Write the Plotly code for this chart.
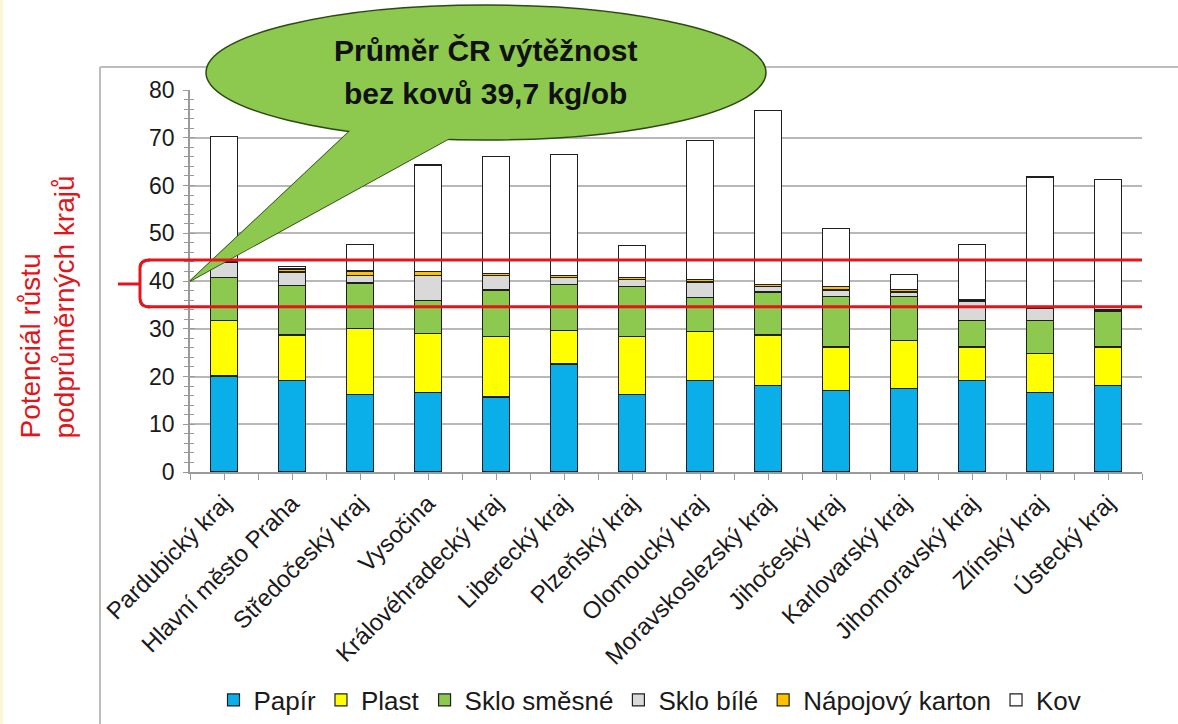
import plotly.graph_objects as go

# Regions (x axis) and per-material yields in kg per inhabitant
regions = [
    "Pardubický kraj", "Hlavní město Praha", "Středočeský kraj", "Vysočina",
    "Královéhradecký kraj", "Liberecký kraj", "Plzeňský kraj", "Olomoucký kraj",
    "Moravskoslezský kraj", "Jihočeský kraj", "Karlovarský kraj",
    "Jihomoravský kraj", "Zlínský kraj", "Ústecký kraj",
]
papir = [20.1, 19.2, 16.3, 16.6, 15.7, 22.6, 16.3, 19.1, 18.2, 17.1, 17.5, 19.2, 16.6, 18.2]
plast = [11.7, 9.5, 13.7, 12.4, 12.7, 7.0, 12.0, 10.3, 10.5, 9.1, 10.1, 7.0, 8.3, 8.0]
sklo_smesne = [8.9, 10.3, 9.6, 6.9, 9.7, 9.7, 10.6, 7.2, 9.0, 10.5, 9.1, 5.6, 6.9, 7.5]
sklo_bile = [3.1, 2.9, 1.6, 5.3, 3.1, 1.4, 1.4, 3.2, 1.1, 1.4, 1.0, 4.0, 2.4, 0.2]
napojovy_karton = [0.2, 0.6, 0.9, 0.8, 0.4, 0.4, 0.5, 0.5, 0.4, 0.7, 0.5, 0.4, 0.1, 0.1]
kov = [26.2, 0.6, 5.6, 22.3, 24.4, 25.4, 6.6, 29.1, 36.5, 12.2, 3.2, 11.5, 27.5, 27.3]

series = [
    ("Papír", papir, "#0AAEE8"),
    ("Plast", plast, "#FFFF00"),
    ("Sklo směsné", sklo_smesne, "#8DC84F"),
    ("Sklo bílé", sklo_bile, "#D9D9D9"),
    ("Nápojový karton", napojovy_karton, "#FFC000"),
    ("Kov", kov, "#FFFFFF"),
]

y_ticks = [0, 10, 20, 30, 40, 50, 60, 70, 80]
band = [34.6, 44.4]          # range around the national average
average_text = ["Průměr ČR výtěžnost", "bez kovů 39,7 kg/ob"]
side_title = ["Potenciál růstu", "podprůměrných krajů"]

FONT = "Arial, Liberation Sans, sans-serif"
RED = "#E3151B"
WIDTH, HEIGHT = 1178, 724
L, R, T, B = 190, 36, 90, 252
PW, PH = WIDTH - L - R, HEIGHT - T - B


def px(x):
    return (x - L) / PW


def py(y):
    return (HEIGHT - B - y) / PH


xs = list(range(len(regions)))
fig = go.Figure()
for name, vals, color in series:
    fig.add_trace(go.Bar(
        x=xs, y=vals, name=name, width=0.4,
        marker=dict(color=color, line=dict(color="#1F1F1F", width=1.2)),
    ))

# companion axis so the y ticks cross the axis line
fig.add_trace(go.Scatter(x=[None], y=[None], yaxis="y2", showlegend=False, hoverinfo="skip"))

shapes = []
# outer frame of the chart
shapes.append(dict(type="line", xref="paper", yref="paper", x0=px(100), x1=px(100),
                   y0=py(67), y1=py(724), line=dict(color="#BDBDBD", width=2)))
shapes.append(dict(type="line", xref="paper", yref="paper", x0=px(100), x1=px(1178),
                   y0=py(67), y1=py(67), line=dict(color="#BDBDBD", width=2)))
shapes.append(dict(type="rect", xref="paper", yref="paper", x0=px(0), x1=px(3),
                   y0=py(0), y1=py(724), fillcolor="#F8F8D8", line=dict(width=0)))

# speech bubble
GREEN, EDGE = "#8DC84F", "#2E4A14"
tail = f"M {px(370)},{py(112)} L {px(190)},{py(281)} L {px(481)},{py(121)} Z"
shapes.append(dict(type="path", xref="paper", yref="paper", path=tail,
                   fillcolor=GREEN, line=dict(color=EDGE, width=1.5)))
shapes.append(dict(type="circle", xref="paper", yref="paper",
                   x0=px(206), x1=px(766), y0=py(140), y1=py(5),
                   fillcolor=GREEN, line=dict(color=EDGE, width=1.5)))
shapes.append(dict(type="path", xref="paper", yref="paper", path=tail,
                   fillcolor=GREEN, line=dict(width=0)))

# band lines with the bracket on the left
for v in band:
    shapes.append(dict(type="line", xref="paper", yref="y", x0=px(148), x1=1.0,
                       y0=v, y1=v, line=dict(color=RED, width=3)))
bracket = (f"M {px(150)},{py(260)} Q {px(140)},{py(260)} {px(140)},{py(268)} "
           f"L {px(140)},{py(298)} Q {px(140)},{py(307)} {px(150)},{py(307)}")
shapes.append(dict(type="path", xref="paper", yref="paper", path=bracket,
                   line=dict(color=RED, width=3)))
shapes.append(dict(type="line", xref="paper", yref="paper", x0=px(118), x1=px(140),
                   y0=py(284), y1=py(284), line=dict(color=RED, width=3)))

annotations = []
for i, line in enumerate(average_text):
    annotations.append(dict(xref="paper", yref="paper", x=px(485), y=py(51 + 42 * i),
                            text=f"<b>{line}</b>", showarrow=False,
                            xanchor="center", yanchor="middle",
                            font=dict(family=FONT, size=30, color="#111111")))
for i, line in enumerate(side_title):
    annotations.append(dict(xref="paper", yref="paper", x=px(30 + 34 * i), y=py(441),
                            text=line, showarrow=False, textangle=-90,
                            xanchor="center", yanchor="bottom",
                            font=dict(family=FONT, size=28, color=RED)))

fig.update_layout(
    width=WIDTH, height=HEIGHT,
    margin=dict(l=L, r=R, t=T, b=B, autoexpand=False),
    barmode="stack",
    paper_bgcolor="white", plot_bgcolor="white",
    font=dict(family=FONT, color="#1A1A1A"),
    xaxis=dict(
        range=[-0.5, len(regions) - 0.5], tickmode="array", tickvals=xs, ticktext=regions,
        tickangle=-45, tickfont=dict(size=24, color="#1A1A1A"),
        showgrid=False, zeroline=False, showline=True, linecolor="#9A9A9A", linewidth=1.5,
        ticks="outside", ticklen=6, tickcolor="#9A9A9A",
        minor=dict(tickmode="linear", tick0=-0.5, dtick=0.5, ticks="outside", ticklen=6,
                   tickcolor="#9A9A9A"),
        automargin=False,
    ),
    yaxis=dict(
        range=[0, 80], tickmode="array", tickvals=y_ticks,
        tickfont=dict(size=23, color="#1A1A1A"),
        showgrid=True, gridcolor="#B8B8B8", gridwidth=1.5, zeroline=False,
        showline=True, linecolor="#9A9A9A", linewidth=1.5,
        ticks="outside", ticklen=5, tickcolor="#9A9A9A", ticklabelstandoff=4,
        minor=dict(dtick=2, ticks="outside", ticklen=4, tickcolor="#9A9A9A", showgrid=False),
        automargin=False,
    ),
    yaxis2=dict(
        range=[0, 80], overlaying="y", side="left", showgrid=False, zeroline=False,
        showticklabels=False, tickvals=y_ticks, ticks="inside", ticklen=5,
        tickcolor="#9A9A9A",
        minor=dict(dtick=2, ticks="inside", ticklen=4, tickcolor="#9A9A9A"),
    ),
    legend=dict(
        orientation="h", x=px(650), xanchor="center", y=py(700), yanchor="middle",
        font=dict(size=26, color="#1A1A1A"), bgcolor="rgba(0,0,0,0)",
        traceorder="normal", itemwidth=30,
    ),
    shapes=shapes,
    annotations=annotations,
    showlegend=True,
)

fig.write_html("out.html")
